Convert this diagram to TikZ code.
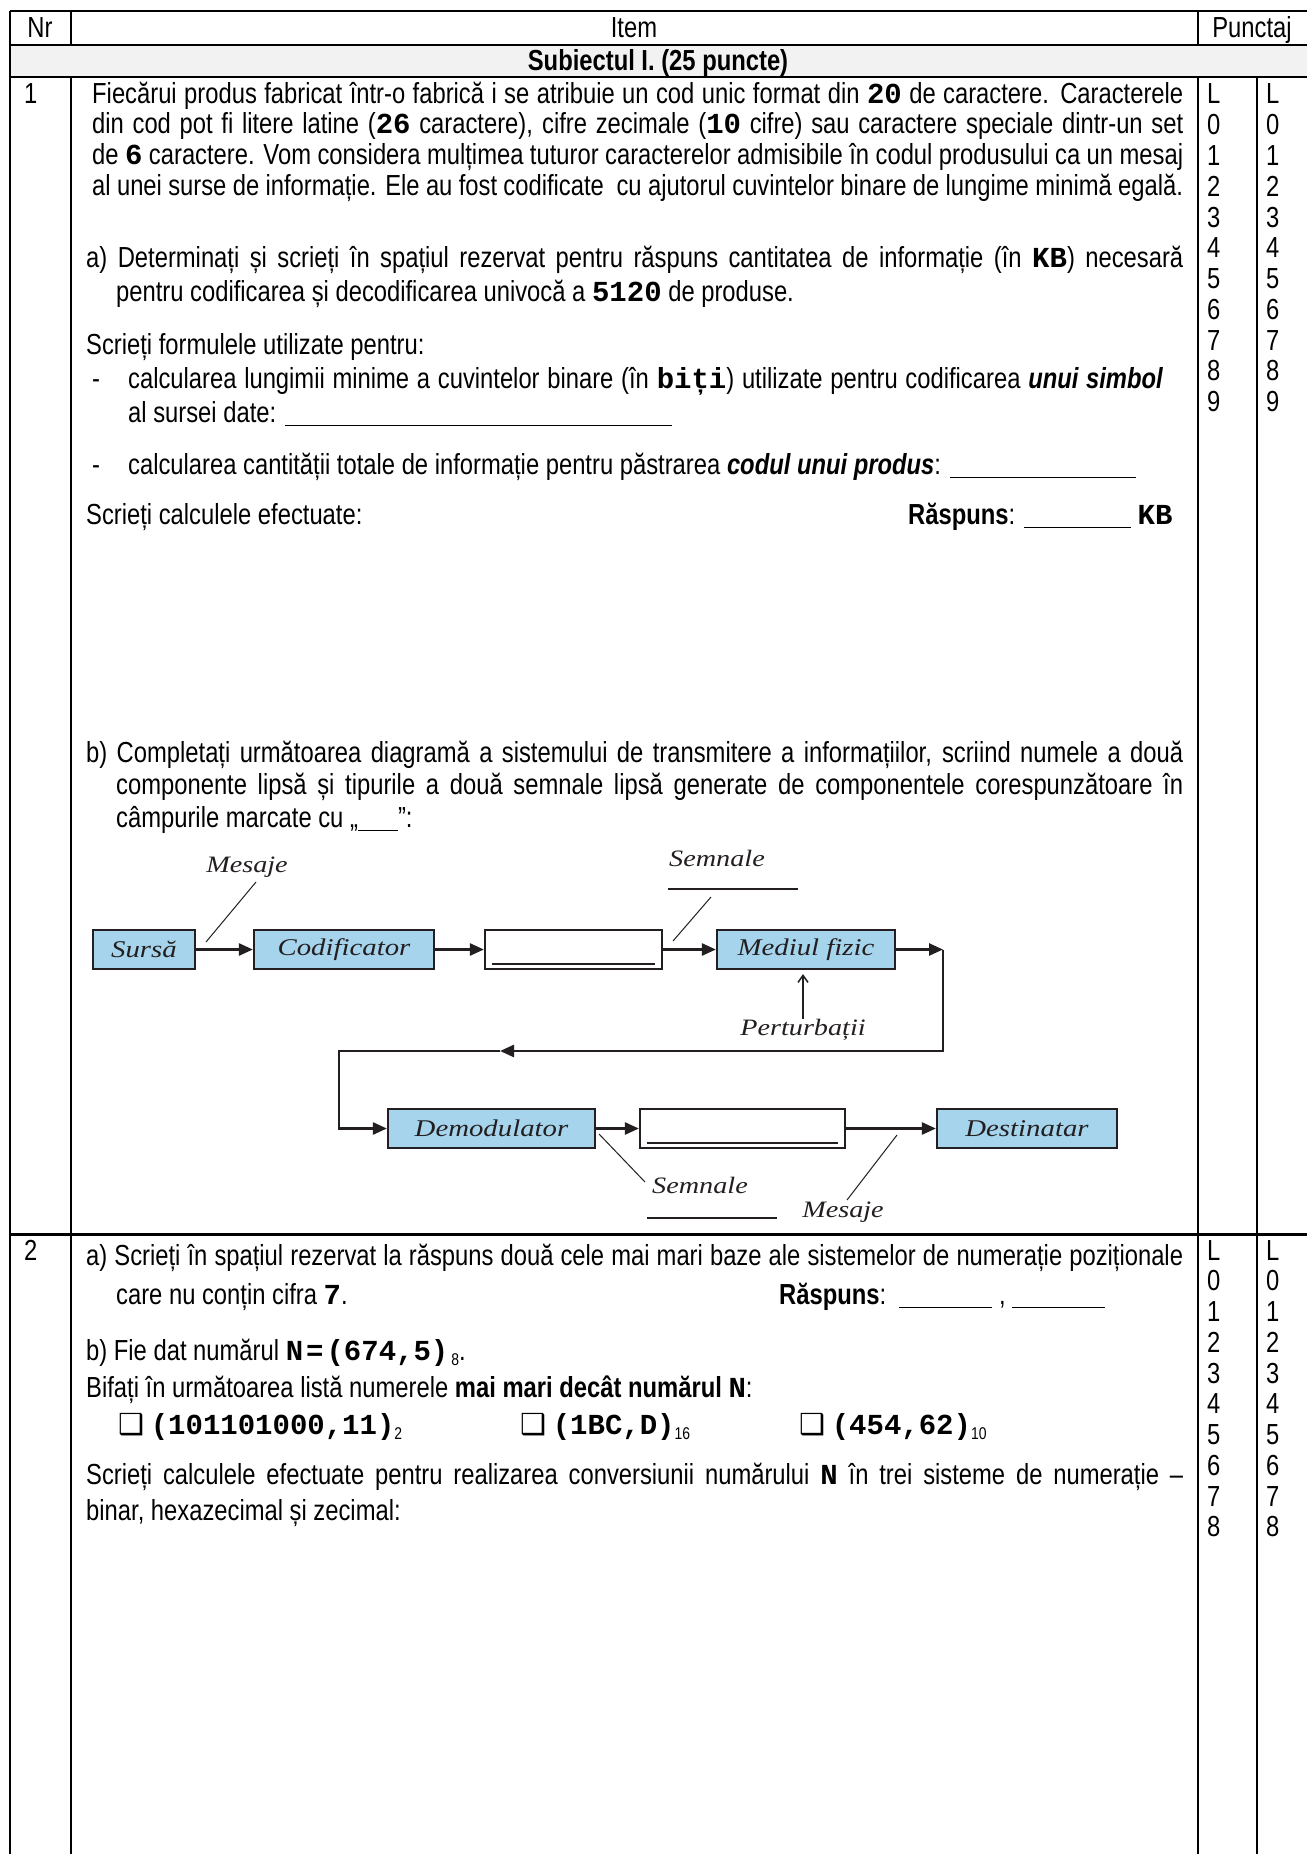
\documentclass[tikz,border=0pt]{standalone}
\usepackage{fontspec}
\setmainfont{Liberation Sans}[FakeStretch=0.82]
\setmonofont{Liberation Mono}
\newfontfamily\diagfont{Liberation Serif}[FakeStretch=1.2]
\newfontfamily\symfont{DejaVu Sans}
\usetikzlibrary{arrows.meta}
\definecolor{boxblue}{RGB}{166,212,236}
\definecolor{rowgray}{RGB}{242,242,242}
\definecolor{ink}{RGB}{35,31,32}
\newcommand\M[1]{{\ttfamily\bfseries #1}}
\newcommand\J[2]{\makebox[#1pt][s]{#2}}
\newcommand\blank[1]{\rule[-4pt]{#1pt}{1.3pt}}
\newcommand\sub[1]{\raisebox{-5pt}{\fontsize{17}{17}\selectfont #1}}
\newcommand\chk{{\symfont\fontsize{29}{29}\selectfont ❑}}
\begin{document}
\begin{tikzpicture}[x=1pt,y=-1pt,
  txt/.style={anchor=base west,inner sep=0pt,font=\fontsize{29}{30}\selectfont},
  ctxt/.style={anchor=base,inner sep=0pt,font=\fontsize{29}{30}\selectfont},
  gridline/.style={line width=1.5pt,black},
  blk/.style={draw=ink,line width=2.2pt,fill=boxblue,minimum height=39pt,inner sep=0pt,
    font=\diagfont\itshape\fontsize{24}{24}\selectfont,text=ink},
  emp/.style={draw=ink,line width=2.2pt,fill=white,minimum height=39pt,inner sep=0pt},
  lab/.style={inner sep=0pt,font=\diagfont\itshape\fontsize{23.5}{24}\selectfont,text=ink},
  arr/.style={line width=2.5pt,ink,-{Triangle[length=14pt,width=12pt]}},
  thin/.style={line width=1pt,ink},
]
\useasboundingbox (0,0) rectangle (1307,1854);
\fill[white] (0,0) rectangle (1307,1854);
% ---------- table ----------
\fill[rowgray] (10,45) rectangle (1307,77);
\draw[line width=2pt] (10,11) -- (1307,11);
\draw[gridline] (10,11) -- (10,1854);
\draw[gridline] (71,11) -- (71,45);
\draw[gridline] (71,77) -- (71,1854);
\draw[gridline] (1198,11) -- (1198,45);
\draw[gridline] (1198,77) -- (1198,1854);
\draw[gridline] (1257,77) -- (1257,1854);
\draw[line width=2.5pt] (10,45) -- (1307,45);
\draw[line width=1.5pt] (10,77) -- (1307,77);
\draw[line width=3pt] (10,1234) -- (1307,1234);
% header
\node[ctxt] (hnr) at (40,38) {Nr};
\node[ctxt] (hitem) at (634,38) {Item};
\node[ctxt] (hpct) at (1252,38) {Punctaj};
\node[ctxt] (subj) at (658,71) {\textbf{Subiectul I. (25 puncte)}};
% row numbers
\node[txt] (nr1) at (24,104) {1};
\node[txt] (nr2) at (24,1260) {2};
% punctaj digits
\foreach \d [count=\i from 0] in {L,0,1,2,3,4,5,6,7,8,9} {
  \node[txt] (pa\i) at (1207,104+\i*30.75) {\d};
  \node[txt] (pb\i) at (1266,104+\i*30.75) {\d};
}
\foreach \d [count=\i from 0] in {L,0,1,2,3,4,5,6,7,8} {
  \node[txt] (qa\i) at (1207,1260+\i*30.75) {\d};
  \node[txt] (qb\i) at (1266,1260+\i*30.75) {\d};
}
% ---------- row 1 text ----------
\node[txt] (t1) at (92,104) {\J{1091}{Fiecărui produs fabricat într-o fabrică i se atribuie un cod unic format din \M{20} de caractere. Caracterele}};
\node[txt] (t2) at (92,134) {\J{1091}{din cod pot fi litere latine (\M{26} caractere), cifre zecimale (\M{10} cifre) sau caractere speciale dintr-un set}};
\node[txt] (t3) at (92,165) {\J{1091}{de \M{6} caractere. Vom considera mulțimea tuturor caracterelor admisibile în codul produsului ca un mesaj}};
\node[txt] (t4) at (92,196) {\J{1091}{al unei surse de informație. Ele au fost codificate\ \ cu ajutorul cuvintelor binare de lungime minimă egală.}};
\node[txt] (t5) at (86,267) {\J{1097}{a) Determinați și scrieți în spațiul rezervat pentru răspuns cantitatea de informație (în \M{KB}) necesară}};
\node[txt] (t6) at (116,301) {pentru codificarea și decodificarea univocă a \M{5120} de produse.};
\node[txt] (t7) at (86,354) {Scrieți formulele utilizate pentru:};
\node[txt] (t8a) at (92,388) {-};
\node[txt] (t8) at (128,388) {\J{1035}{calcularea lungimii minime a cuvintelor binare (în \M{biți}) utilizate pentru codificarea \textbf{\textit{unui simbol}}}};
\node[txt] (t9) at (128,422) {al sursei date: \blank{387}};
\node[txt] (t10a) at (92,474) {-};
\node[txt] (t10) at (128,474) {calcularea cantității totale de informație pentru păstrarea \textbf{\textit{codul unui produs}}: \blank{186}};
\node[txt] (t11) at (86,524) {Scrieți calculele efectuate:};
\node[txt] (t12) at (908,524) {\textbf{Răspuns}: \blank{107}\ \M{KB}};
\node[txt] (t13) at (86,762) {\J{1097}{b) Completați următoarea diagramă a sistemului de transmitere a informațiilor, scriind numele a două}};
\node[txt] (t14) at (116,794) {\J{1067}{componente lipsă și tipurile a două semnale lipsă generate de componentele corespunzătoare în}};
\node[txt] (t15) at (116,827) {câmpurile marcate cu „\blank{40}”:};
% ---------- diagram ----------
\node[blk,minimum width=102pt] (sursa) at (144,949.5) {Sursă};
\node[blk,minimum width=180pt] (codif) at (344,949.5) {Codificator};
\node[emp,minimum width=177pt] (gol1) at (573.5,949.5) {};
\node[blk,minimum width=178pt] (mediul) at (806,949.5) {Mediul fizic};
\node[blk,minimum width=207pt] (demod) at (491.5,1128.5) {Demodulator};
\node[emp,minimum width=205pt] (gol2) at (742.5,1128.5) {};
\node[blk,minimum width=180pt] (dest) at (1027,1128.5) {Destinatar};
\draw[line width=1.5pt,ink] ([xshift=8pt,yshift=6pt]gol1.south west) -- ([xshift=-8pt,yshift=6pt]gol1.south east);
\draw[line width=1.5pt,ink] ([xshift=8pt,yshift=6pt]gol2.south west) -- ([xshift=-8pt,yshift=6pt]gol2.south east);
\draw[arr] (sursa) -- (codif);
\draw[arr] (codif) -- (gol1);
\draw[arr] (gol1) -- (mediul);
\coordinate (c1) at (943,949.5);
\coordinate (c2) at (943,1051);
\coordinate (mid) at (500,1051);
\coordinate (c3) at (339,1051);
\coordinate (c4) at (339,1128.5);
\draw[arr] (mediul) -- (c1);
\draw[arr] (c1) -- (c2) -- (mid);
\draw[arr] (mid) -- (c3) -- (c4) -- (demod);
\draw[arr] (demod) -- (gol2);
\draw[arr] (gol2) -- (dest);
% labels
\node[lab] (pert) at (803,1030) {Perturbații};
\draw[line width=1.5pt,ink,-{Straight Barb[length=7pt,width=10pt]},shorten >=4pt] (pert.north) -- (pert.north |- mediul.south);
\node[lab] (mes1) at (247,867) {Mesaje};
\coordinate (m1a) at (206,942);
\coordinate (m1b) at (256,882);
\draw[thin] (m1a) -- (m1b);
\node[lab] (sem1) at (717,858) {Semnale};
\coordinate (s1u) at (668,889);
\coordinate (s1v) at (798,889);
\draw[line width=1.5pt,ink] (s1u) -- (s1v);
\coordinate (s1a) at (673,941);
\coordinate (s1b) at (711,897);
\draw[thin] (s1a) -- (s1b);
\node[lab] (sem2) at (700,1185) {Semnale};
\coordinate (s2a) at (599,1134);
\coordinate (s2b) at (645,1182);
\draw[thin] (s2a) -- (s2b);
\coordinate (s2u) at (647,1218);
\coordinate (s2v) at (777,1218);
\draw[line width=1.5pt,ink] (s2u) -- (s2v);
\node[lab] (mes2) at (843,1212) {Mesaje};
\coordinate (m2a) at (897,1135);
\coordinate (m2b) at (847,1200);
\draw[thin] (m2a) -- (m2b);
% ---------- row 2 text ----------
\node[txt] (u1) at (86,1265) {\J{1097}{a) Scrieți în spațiul rezervat la răspuns două cele mai mari baze ale sistemelor de numerație poziționale}};
\node[txt] (u2) at (116,1304) {care nu conțin cifra \M{7}.};
\node[txt] (u3) at (779,1304) {\textbf{Răspuns}:\ \ \blank{93} , \blank{93}};
\node[txt] (u4) at (86,1360) {b) Fie dat numărul \M{N}\hspace{3pt}\M{=}\hspace{3pt}\M{(674,5)}\hspace{3pt}\sub{8}.};
\node[txt] (u5) at (86,1397) {Bifați în următoarea listă numerele \textbf{mai mari decât numărul} \M{N}:};
\node[txt] (u6) at (118,1434) {\chk\ \M{(101101000,11)}\sub{2}};
\node[txt] (u7) at (520,1434) {\chk\ \M{(1BC,D)}\sub{16}};
\node[txt] (u8) at (799,1434) {\chk\ \M{(454,62)}\sub{10}};
\node[txt] (u9) at (86,1484) {\J{1097}{Scrieți calculele efectuate pentru realizarea conversiunii numărului \M{N} în trei sisteme de numerație –}};
\node[txt] (u10) at (86,1520) {binar, hexazecimal și zecimal:};
\end{tikzpicture}
\end{document}
